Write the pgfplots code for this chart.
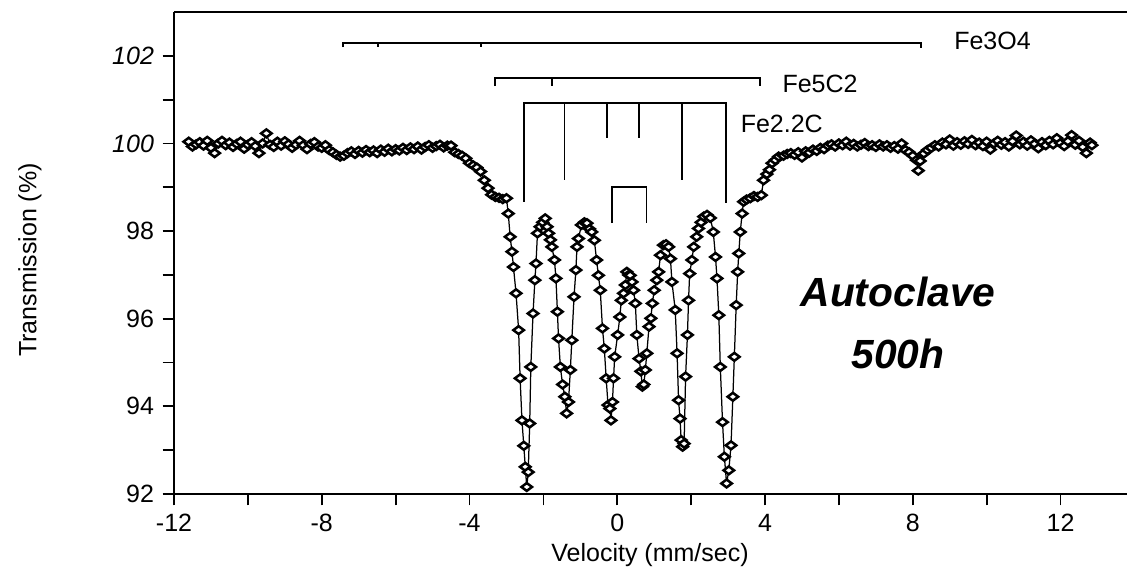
\documentclass[border=0pt]{standalone}
\usepackage{fontspec}
\setmainfont{Liberation Sans}
\usepackage{pgfplots}
\pgfplotsset{compat=1.18}
\begin{document}
\begin{tikzpicture}
\useasboundingbox (-69.6pt,-30.8pt) rectangle (381.2pt,197.6pt);
\begin{axis}[
  at={(0pt,0pt)}, anchor=south west,
  scale only axis, width=381.2pt, height=192.8pt,
  xmin=-12, xmax=13.8, ymin=92, ymax=103,
  axis x line*=bottom, axis y line*=left,
  axis line style={line width=1.1pt, black},
  tick align=outside,
  major tick length=4.5pt, minor tick length=4.5pt,
  tick style={line width=0.7pt, black},
  xtick={-12,-8,-4,0,4,8,12},
  xticklabels={-12,-8,-4,0,4,8,12},
  minor xtick={-10,-6,-2,2,6,10},
  ytick={92,94,96,98,100,102},
  yticklabels={92,94,96,98,\textit{100},\textit{102}},
  minor ytick={93,95,97,99,101},
  clip=false,
]
\addplot[black, line width=0.5pt, mark=diamond*,
  mark size=2.1pt,
  mark options={solid, fill=white, draw=black, line width=1pt, rotate=90}]
  table {
x y
-11.6 100.04
-11.5 99.93
-11.4 99.98
-11.3 100.03
-11.2 99.95
-11.1 100.06
-11.0 99.90
-10.9 99.78
-10.8 100.00
-10.7 100.06
-10.6 99.96
-10.5 100.02
-10.4 99.92
-10.3 99.99
-10.2 100.04
-10.1 99.88
-10.0 99.97
-9.9 100.03
-9.8 99.94
-9.7 99.78
-9.6 100.00
-9.5 100.23
-9.4 99.97
-9.3 99.92
-9.2 100.04
-9.1 99.95
-9.0 100.05
-8.9 99.98
-8.8 99.90
-8.7 99.97
-8.6 100.06
-8.5 99.96
-8.4 99.87
-8.3 99.99
-8.2 100.03
-8.1 99.93
-8.0 99.90
-7.9 99.96
-7.8 99.85
-7.7 99.80
-7.6 99.74
-7.5 99.70
-7.4 99.72
-7.3 99.78
-7.2 99.82
-7.1 99.76
-7.0 99.83
-6.9 99.79
-6.8 99.85
-6.7 99.80
-6.6 99.84
-6.5 99.78
-6.4 99.86
-6.3 99.81
-6.2 99.88
-6.1 99.82
-6.0 99.87
-5.9 99.84
-5.8 99.90
-5.7 99.85
-5.6 99.91
-5.5 99.87
-5.4 99.93
-5.3 99.86
-5.2 99.92
-5.1 99.96
-5.0 99.90
-4.9 99.94
-4.8 99.97
-4.7 99.91
-4.6 99.95
-4.5 99.95
-4.4 99.80
-4.3 99.76
-4.2 99.72
-4.1 99.66
-4.0 99.55
-3.9 99.50
-3.8 99.45
-3.7 99.36
-3.6 99.16
-3.5 98.98
-3.4 98.83
-3.3 98.78
-3.2 98.76
-3.1 98.73
-3.0 98.75
-2.95 98.40
-2.90 97.87
-2.85 97.53
-2.81 97.18
-2.74 96.58
-2.67 95.74
-2.63 94.64
-2.58 93.68
-2.53 93.10
-2.49 92.62
-2.45 92.16
-2.41 92.50
-2.37 93.61
-2.34 94.90
-2.28 96.12
-2.23 96.88
-2.20 97.26
-2.16 97.95
-2.09 98.10
-2.02 98.20
-1.95 98.29
-1.90 98.10
-1.86 97.95
-1.81 97.80
-1.77 97.64
-1.70 97.34
-1.66 96.92
-1.62 96.16
-1.59 95.55
-1.54 94.90
-1.48 94.50
-1.42 94.22
-1.37 93.84
-1.32 94.10
-1.27 94.83
-1.23 95.51
-1.17 96.50
-1.12 97.11
-1.09 97.64
-1.05 97.83
-0.97 98.14
-0.89 98.20
-0.82 98.18
-0.75 98.05
-0.69 97.98
-0.62 97.79
-0.56 97.34
-0.51 96.99
-0.46 96.65
-0.40 95.78
-0.35 95.32
-0.30 94.64
-0.25 94.03
-0.20 93.95
-0.17 93.68
-0.13 94.10
-0.10 94.64
-0.07 95.13
0.01 95.63
0.07 96.04
0.11 96.42
0.17 96.58
0.22 96.77
0.26 97.07
0.31 97.00
0.35 96.99
0.40 96.84
0.44 96.65
0.49 96.35
0.53 95.63
0.59 95.09
0.64 94.80
0.68 94.45
0.72 94.50
0.76 94.83
0.80 95.21
0.86 95.82
0.91 96.01
0.95 96.35
1.00 96.65
1.07 96.88
1.12 97.07
1.17 97.45
1.25 97.68
1.32 97.70
1.39 97.64
1.44 97.37
1.48 96.84
1.57 96.20
1.62 95.21
1.66 94.14
1.70 93.72
1.73 93.23
1.77 93.08
1.81 93.15
1.85 94.68
1.90 95.63
1.93 96.42
1.96 97.03
2.02 97.34
2.07 97.64
2.15 97.87
2.20 98.06
2.27 98.20
2.34 98.33
2.43 98.37
2.52 98.30
2.60 97.98
2.66 97.41
2.70 96.92
2.75 96.08
2.79 94.90
2.85 93.64
2.90 92.85
2.96 92.24
3.02 92.54
3.08 93.11
3.13 94.22
3.17 95.13
3.22 96.31
3.26 97.07
3.29 97.49
3.33 97.98
3.38 98.40
3.42 98.67
3.50 98.72
3.60 98.75
3.70 98.80
3.80 98.78
3.90 98.82
3.96 99.16
4.05 99.30
4.12 99.40
4.19 99.55
4.28 99.62
4.37 99.70
4.50 99.72
4.60 99.76
4.7 99.78
4.8 99.74
4.9 99.80
5.0 99.68
5.1 99.82
5.2 99.79
5.3 99.86
5.4 99.83
5.5 99.90
5.6 99.87
5.7 99.95
5.8 99.98
5.9 99.93
6.0 100.00
6.1 99.96
6.2 100.04
6.3 99.95
6.4 99.99
6.5 99.93
6.6 99.97
6.7 100.01
6.8 99.94
6.9 99.96
7.0 99.92
7.1 99.98
7.2 99.93
7.3 99.96
7.4 99.90
7.5 99.94
7.6 99.88
7.7 100.00
7.8 99.85
7.9 99.80
8.0 99.72
8.1 99.62
8.15 99.38
8.2 99.60
8.3 99.77
8.4 99.85
8.5 99.90
8.6 99.96
8.7 99.93
8.8 100.02
8.9 99.98
9.0 100.09
9.1 99.95
9.2 100.03
9.3 99.97
9.4 100.05
9.5 99.99
9.6 100.08
9.7 99.96
9.8 100.02
9.9 99.94
10.0 100.04
10.1 99.86
10.2 100.00
10.3 100.06
10.4 99.97
10.5 100.03
10.6 99.93
10.7 100.05
10.8 100.18
10.9 99.98
11.0 100.04
11.1 99.95
11.2 100.07
11.3 99.99
11.4 99.89
11.5 100.03
11.6 99.96
11.7 100.06
11.8 99.98
11.9 100.12
12.0 100.01
12.1 99.94
12.2 100.05
12.3 100.19
12.4 99.97
12.5 100.06
12.6 99.92
12.7 99.78
12.8 100.02
12.85 99.96
};
% Fe3O4 stick diagram
\draw[line width=0.8pt] (axis cs:-7.43,102.20) -- (axis cs:-7.43,102.29) -- (axis cs:8.21,102.29) -- (axis cs:8.21,102.18);
\draw[line width=0.6pt] (axis cs:-6.48,102.29) -- (axis cs:-6.48,102.20);
\draw[line width=0.6pt] (axis cs:-3.69,102.29) -- (axis cs:-3.69,102.20);
% Fe5C2
\draw[line width=0.7pt] (axis cs:-3.31,101.31) -- (axis cs:-3.31,101.49) -- (axis cs:3.86,101.49) -- (axis cs:3.86,101.31);
\draw[line width=0.6pt] (axis cs:-1.77,101.49) -- (axis cs:-1.77,101.32);
% Fe2.2C sextet
\draw[line width=0.7pt] (axis cs:-2.52,98.67) -- (axis cs:-2.52,100.92) -- (axis cs:2.95,100.92) -- (axis cs:2.95,98.65);
\draw[line width=0.7pt] (axis cs:-1.43,100.92) -- (axis cs:-1.43,99.16);
\draw[line width=0.7pt] (axis cs:-0.28,100.92) -- (axis cs:-0.28,100.12);
\draw[line width=0.7pt] (axis cs:0.59,100.92) -- (axis cs:0.59,100.12);
\draw[line width=0.7pt] (axis cs:1.75,100.92) -- (axis cs:1.75,99.16);
% doublet
\draw[line width=0.7pt] (axis cs:-0.15,98.18) -- (axis cs:-0.15,99.00) -- (axis cs:0.79,99.00) -- (axis cs:0.79,98.18);
\node[anchor=west, inner sep=0pt] at (axis cs:9.11,102.35) {Fe3O4};
\node[anchor=west, inner sep=0pt] at (axis cs:4.46,101.35) {Fe5C2};
\node[anchor=west, inner sep=0pt] at (axis cs:3.33,100.44) {Fe2.2C};
\node[align=center, font=\fontsize{16.3pt}{24.6pt}\selectfont\bfseries\itshape] at (axis cs:7.6,95.9) {Autoclave\\500h};
\draw[line width=1.1pt] (rel axis cs:0,1) -- (rel axis cs:1,1);
\end{axis}
\node at (190.4pt,-24.4pt) {Velocity (mm/sec)};
\node[rotate=90] at (-57.6pt,93.6pt) {Transmission (\%)};
\end{tikzpicture}
\end{document}
